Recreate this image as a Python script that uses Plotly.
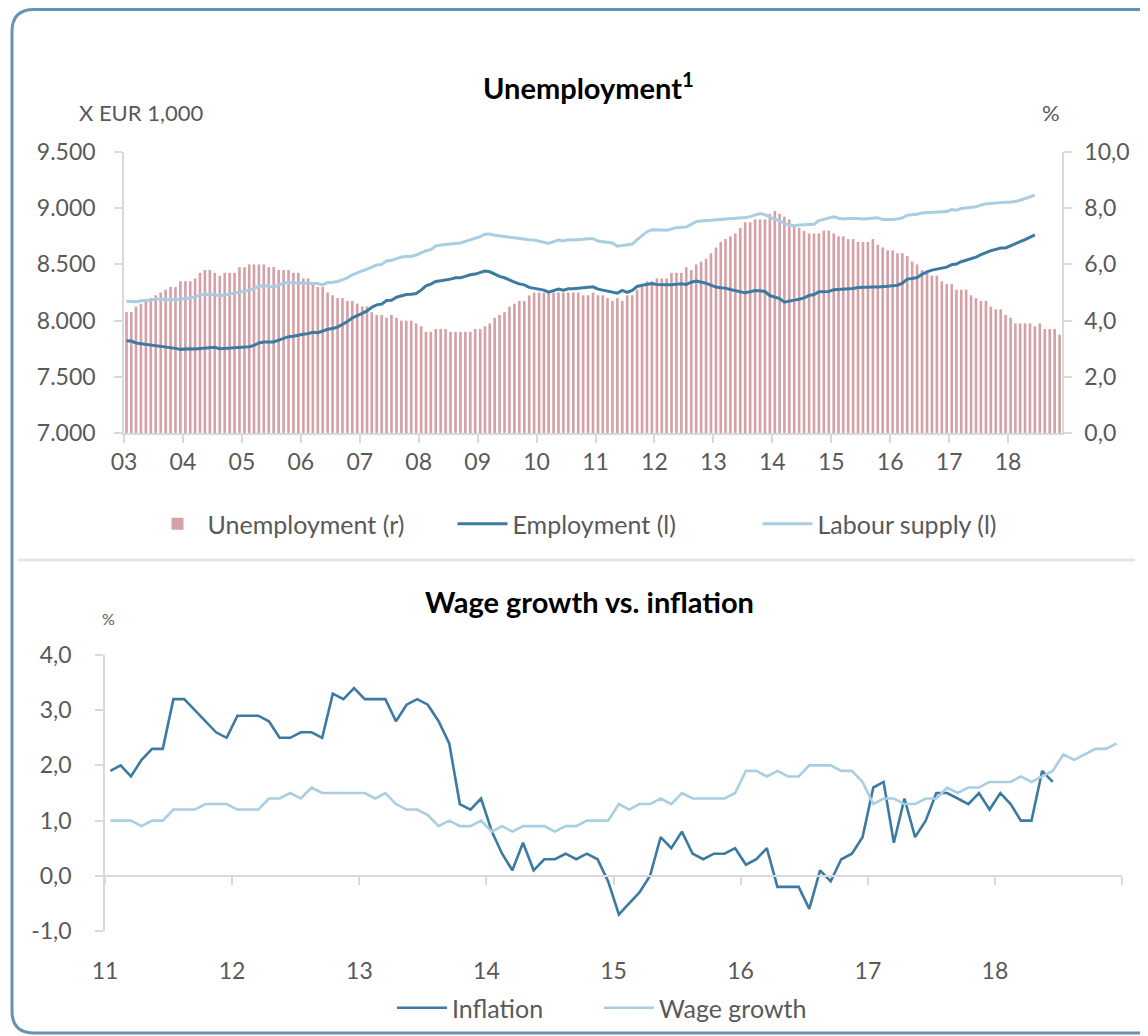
import pandas as pd
import plotly.graph_objects as go

W, H = 1148, 1036
PAGE_OFFSET = 8  # default body margin of the html page

# ---------------- data: top panel (monthly, Jan 2003 onwards) ----------------
unemp_03 = [4.3, 4.3, 4.5, 4.6, 4.7, 4.8, 4.9, 5.0, 5.1, 5.2, 5.2, 5.4]
unemp_04 = [5.4, 5.4, 5.5, 5.7, 5.8, 5.8, 5.7, 5.6, 5.7, 5.7, 5.7, 5.9]
unemp_05 = [5.9, 6.0, 6.0, 6.0, 6.0, 5.9, 5.9, 5.8, 5.8, 5.8, 5.7, 5.7]
unemp_06 = [5.5, 5.5, 5.3, 5.2, 5.2, 5.0, 4.9, 4.8, 4.8, 4.7, 4.7, 4.6]
unemp_07 = [4.5, 4.5, 4.3, 4.2, 4.2, 4.1, 4.2, 4.1, 4.0, 4.0, 4.0, 3.9]
unemp_08 = [3.8, 3.6, 3.6, 3.7, 3.7, 3.7, 3.6, 3.6, 3.6, 3.6, 3.6, 3.7]
unemp_09 = [3.7, 3.8, 3.9, 4.1, 4.2, 4.3, 4.5, 4.6, 4.7, 4.7, 4.9, 5.0]
unemp_10 = [5.0, 5.0, 5.0, 5.0, 5.0, 5.0, 5.0, 5.0, 5.0, 4.9, 4.9, 5.0]
unemp_11 = [4.9, 4.9, 4.8, 4.7, 4.8, 4.7, 4.9, 4.9, 5.1, 5.2, 5.4, 5.4]
unemp_12 = [5.5, 5.5, 5.5, 5.7, 5.7, 5.7, 5.9, 5.8, 6.0, 6.1, 6.2, 6.4]
unemp_13 = [6.6, 6.8, 6.9, 7.0, 7.1, 7.3, 7.5, 7.5, 7.6, 7.6, 7.6, 7.8]
unemp_14 = [7.9, 7.8, 7.7, 7.6, 7.4, 7.3, 7.2, 7.1, 7.1, 7.1, 7.2, 7.2]
unemp_15 = [7.1, 7.0, 7.0, 6.9, 6.9, 6.8, 6.8, 6.8, 6.9, 6.7, 6.6, 6.5]
unemp_16 = [6.5, 6.4, 6.4, 6.3, 6.1, 6.0, 5.8, 5.7, 5.6, 5.6, 5.4, 5.3]
unemp_17 = [5.3, 5.1, 5.1, 5.1, 4.9, 4.8, 4.7, 4.7, 4.5, 4.4, 4.4, 4.2]
unemp_18 = [4.1, 3.9, 3.9, 3.9, 3.9, 3.8, 3.9, 3.7, 3.7, 3.7, 3.5]
unemployment = (unemp_03 + unemp_04 + unemp_05 + unemp_06 + unemp_07 + unemp_08
                + unemp_09 + unemp_10 + unemp_11 + unemp_12 + unemp_13 + unemp_14
                + unemp_15 + unemp_16 + unemp_17 + unemp_18)

employment = [
    7821, 7818, 7801, 7795, 7792, 7786, 7783, 7771, 7768, 7762, 7753, 7744,
    7750, 7750, 7747, 7750, 7753, 7753, 7762, 7750, 7753, 7759, 7765, 7765,
    7765, 7768, 7780, 7801, 7810, 7812, 7810, 7827, 7845, 7857, 7860, 7872,
    7878, 7884, 7896, 7893, 7911, 7923, 7929, 7943, 7967, 7991, 8024, 8048,
    8065, 8086, 8119, 8140, 8146, 8179, 8181, 8208, 8223, 8232, 8235, 8241,
    8271, 8309, 8324, 8348, 8354, 8360, 8369, 8381, 8381, 8393, 8408, 8414,
    8431, 8440, 8434, 8411, 8393, 8381, 8360, 8342, 8327, 8318, 8295, 8286,
    8283, 8271, 8253, 8268, 8280, 8271, 8283, 8283, 8286, 8289, 8298, 8300,
    8280, 8271, 8262, 8250, 8244, 8268, 8250, 8268, 8304, 8315, 8321, 8330,
    8321, 8318, 8315, 8318, 8324, 8327, 8321, 8342, 8351, 8345, 8333, 8315,
    8298, 8292, 8289, 8277, 8265, 8256, 8247, 8256, 8268, 8265, 8259, 8223,
    8208, 8196, 8164, 8176, 8182, 8190, 8202, 8223, 8232, 8256, 8259, 8259,
    8274, 8277, 8277, 8280, 8286, 8295, 8298, 8298, 8298, 8300, 8300, 8306,
    8309, 8315, 8333, 8369, 8375, 8383, 8411, 8434, 8449, 8458, 8470, 8476,
    8497, 8503, 8524, 8536, 8548, 8565, 8586, 8607, 8622, 8634, 8646, 8646,
    8667, 8687, 8702, 8720, 8741, 8762]

labour_supply = [
    8173, 8173, 8167, 8176, 8179, 8182, 8193, 8187, 8187, 8187, 8185, 8190,
    8193, 8202, 8211, 8229, 8235, 8235, 8232, 8220, 8229, 8238, 8247, 8256,
    8259, 8271, 8286, 8303, 8312, 8309, 8300, 8315, 8333, 8339, 8339, 8339,
    8336, 8333, 8330, 8330, 8318, 8339, 8342, 8348, 8363, 8381, 8408, 8428,
    8443, 8458, 8479, 8494, 8500, 8530, 8536, 8551, 8565, 8571, 8571, 8583,
    8604, 8622, 8631, 8664, 8673, 8676, 8681, 8684, 8690, 8705, 8720, 8729,
    8747, 8768, 8771, 8759, 8753, 8744, 8738, 8732, 8726, 8720, 8720, 8717,
    8708, 8696, 8687, 8702, 8717, 8708, 8720, 8717, 8717, 8723, 8729, 8729,
    8708, 8702, 8696, 8690, 8661, 8666, 8670, 8681, 8720, 8756, 8791, 8809,
    8809, 8806, 8803, 8815, 8827, 8830, 8833, 8857, 8881, 8887, 8890, 8893,
    8896, 8899, 8908, 8908, 8911, 8914, 8917, 8925, 8937, 8952, 8943, 8920,
    8899, 8893, 8863, 8851, 8845, 8851, 8854, 8854, 8857, 8890, 8902, 8908,
    8923, 8911, 8905, 8908, 8911, 8908, 8905, 8908, 8911, 8914, 8899, 8896,
    8899, 8905, 8914, 8937, 8940, 8946, 8958, 8961, 8964, 8964, 8967, 8970,
    8988, 8982, 8997, 9000, 9003, 9012, 9027, 9039, 9042, 9048, 9051, 9054,
    9056, 9059, 9071, 9086, 9098, 9116]

top_year_labels = ["03", "04", "05", "06", "07", "08", "09", "10",
                   "11", "12", "13", "14", "15", "16", "17", "18"]

# ---------------- data: bottom panel (monthly, Jan 2011 onwards) ----------------
inflation = [
    1.9, 2.0, 1.8, 2.1, 2.3, 2.3, 3.2, 3.2, 3.0, 2.8, 2.6, 2.5,
    2.9, 2.9, 2.9, 2.8, 2.5, 2.5, 2.6, 2.6, 2.5, 3.3, 3.2, 3.4,
    3.2, 3.2, 3.2, 2.8, 3.1, 3.2, 3.1, 2.8, 2.4, 1.3, 1.2, 1.4,
    0.8, 0.4, 0.1, 0.6, 0.1, 0.3, 0.3, 0.4, 0.3, 0.4, 0.3, -0.1,
    -0.7, -0.5, -0.3, 0.0, 0.7, 0.5, 0.8, 0.4, 0.3, 0.4, 0.4, 0.5,
    0.2, 0.3, 0.5, -0.2, -0.2, -0.2, -0.6, 0.1, -0.1, 0.3, 0.4, 0.7,
    1.6, 1.7, 0.6, 1.4, 0.7, 1.0, 1.5, 1.5, 1.4, 1.3, 1.5, 1.2,
    1.5, 1.3, 1.0, 1.0, 1.9, 1.7]

wage_growth = [
    1.0, 1.0, 1.0, 0.9, 1.0, 1.0, 1.2, 1.2, 1.2, 1.3, 1.3, 1.3,
    1.2, 1.2, 1.2, 1.4, 1.4, 1.5, 1.4, 1.6, 1.5, 1.5, 1.5, 1.5,
    1.5, 1.4, 1.5, 1.3, 1.2, 1.2, 1.1, 0.9, 1.0, 0.9, 0.9, 1.0,
    0.8, 0.9, 0.8, 0.9, 0.9, 0.9, 0.8, 0.9, 0.9, 1.0, 1.0, 1.0,
    1.3, 1.2, 1.3, 1.3, 1.4, 1.3, 1.5, 1.4, 1.4, 1.4, 1.4, 1.5,
    1.9, 1.9, 1.8, 1.9, 1.8, 1.8, 2.0, 2.0, 2.0, 1.9, 1.9, 1.7,
    1.3, 1.4, 1.4, 1.3, 1.3, 1.4, 1.4, 1.6, 1.5, 1.6, 1.6, 1.7,
    1.7, 1.7, 1.8, 1.7, 1.8, 1.9, 2.2, 2.1, 2.2, 2.3, 2.3, 2.4]

bottom_year_labels = ["11", "12", "13", "14", "15", "16", "17", "18"]
bottom_y_values = [-1, 0, 1, 2, 3, 4]
bottom_y_labels = ["-1,0", "0,0", "1,0", "2,0", "3,0", "4,0"]

# ---------------- styling ----------------
FONT = "Lato, 'Open Sans', sans-serif"
GREY = "#595959"
AXIS = "#d9d9d9"
C_BAR = "#d5a0a6"
C_DARK = "#3b7ba1"
C_LIGHT = "#a9cde2"
C_FRAME = "#6393b7"


def px_x(x):
    """page pixel -> paper fraction"""
    return (x - PAGE_OFFSET) / W


def px_y(y):
    return 1 - (y - PAGE_OFFSET) / H


months_top = pd.date_range("2003-01-01", periods=len(unemployment), freq="MS")
months_bot = pd.date_range("2011-01-01", periods=len(wage_growth), freq="MS")
top_ticks = pd.date_range("2003-01-01", periods=len(top_year_labels), freq="12MS")
bot_ticks = pd.date_range("2011-01-01", periods=len(bottom_year_labels), freq="12MS")

fig = go.Figure()

fig.add_trace(go.Bar(
    x=months_top, y=unemployment, name="Unemployment (r)",
    xperiod="M1", xperiodalignment="middle",
    marker=dict(color=C_BAR, line=dict(width=0)),
    xaxis="x", yaxis="y", legend="legend"))
fig.add_trace(go.Scatter(
    x=months_top[:len(employment)], y=employment, name="Employment (l)",
    xperiod="M1", xperiodalignment="middle", mode="lines",
    line=dict(color=C_DARK, width=3), xaxis="x", yaxis="y2", legend="legend"))
fig.add_trace(go.Scatter(
    x=months_top[:len(labour_supply)], y=labour_supply, name="Labour supply (l)",
    xperiod="M1", xperiodalignment="middle", mode="lines",
    line=dict(color=C_LIGHT, width=3), xaxis="x", yaxis="y2", legend="legend"))

fig.add_trace(go.Scatter(
    x=months_bot[:len(inflation)], y=inflation, name="Inflation",
    xperiod="M1", xperiodalignment="middle", mode="lines",
    line=dict(color=C_DARK, width=2.6), xaxis="x2", yaxis="y3", legend="legend2"))
fig.add_trace(go.Scatter(
    x=months_bot, y=wage_growth, name="Wage growth",
    xperiod="M1", xperiodalignment="middle", mode="lines",
    line=dict(color=C_LIGHT, width=2.6), xaxis="x2", yaxis="y3", legend="legend2"))

tickfont = dict(family=FONT, size=23, color=GREY)

# frame: open path (top, left and bottom edges with rounded left corners);
# its right side lies beyond the visible page in the reference
x0, y0, x_end, y1, r = 12, 9.5, 1200, 1033, 22
path = (f"M {px_x(x_end)} {px_y(y0)} L {px_x(x0 + r)} {px_y(y0)} "
        f"Q {px_x(x0)} {px_y(y0)} {px_x(x0)} {px_y(y0 + r)} "
        f"L {px_x(x0)} {px_y(y1 - r)} Q {px_x(x0)} {px_y(y1)} {px_x(x0 + r)} {px_y(y1)} "
        f"L {px_x(x_end)} {px_y(y1)}")

fig.update_layout(
    width=W, height=H,
    margin=dict(l=0, r=0, t=0, b=0, autoexpand=False),
    paper_bgcolor="white", plot_bgcolor="rgba(0,0,0,0)",
    separators=",.",
    font=dict(family=FONT, color=GREY),
    bargap=0.45,
    xaxis=dict(
        domain=[px_x(124), px_x(1062)], anchor="y",
        range=["2003-01-01", "2018-12-01"], type="date",
        tickvals=top_ticks, ticktext=top_year_labels,
        showline=True, linecolor=AXIS, linewidth=1.5,
        ticks="outside", ticklen=8, tickcolor=AXIS, tickwidth=1.5,
        showgrid=False, zeroline=False, tickfont=tickfont, ticklabelstandoff=0),
    yaxis=dict(
        domain=[px_y(433), px_y(152)], anchor="x", side="right",
        range=[0, 10], tickvals=[0, 2, 4, 6, 8, 10], tickformat=".1f",
        showline=True, linecolor=AXIS, linewidth=1.5,
        ticks="outside", ticklen=8, tickcolor=AXIS, tickwidth=1.5,
        showgrid=False, zeroline=False, tickfont=tickfont, ticklabelstandoff=8),
    yaxis2=dict(
        overlaying="y", anchor="x", side="left",
        range=[7000, 9500], tickvals=[7000, 7500, 8000, 8500, 9000, 9500],
        tickformat=",d",
        showline=True, linecolor=AXIS, linewidth=1.5,
        ticks="outside", ticklen=8, tickcolor=AXIS, tickwidth=1.5,
        showgrid=False, zeroline=False, tickfont=tickfont, ticklabelstandoff=14),
    xaxis2=dict(
        domain=[px_x(105), px_x(1122)], anchor="free", position=px_y(876),
        range=["2011-01-01", "2019-01-01"], type="date",
        tickvals=bot_ticks, ticktext=bottom_year_labels,
        minor=dict(tickvals=["2019-01-01"], ticks="outside", ticklen=8,
                   tickcolor=AXIS, tickwidth=1.5, showgrid=False),
        showline=True, linecolor=AXIS, linewidth=1.5,
        ticks="outside", ticklen=8, tickcolor=AXIS, tickwidth=1.5,
        showgrid=False, zeroline=False, tickfont=tickfont, ticklabelstandoff=67),
    yaxis3=dict(
        domain=[px_y(931), px_y(655)], anchor="x2", side="left",
        range=[-1, 4], tickvals=bottom_y_values, ticktext=bottom_y_labels,
        showline=True, linecolor=AXIS, linewidth=1.5,
        ticks="outside", ticklen=8, tickcolor=AXIS, tickwidth=1.5,
        showgrid=False, zeroline=False, tickfont=tickfont, ticklabelstandoff=19),
    legend=dict(
        orientation="h", x=px_x(605), y=px_y(524), xanchor="center", yanchor="middle",
        font=dict(family=FONT, size=25, color=GREY), bgcolor="rgba(0,0,0,0)",
        itemwidth=50, entrywidth=240, traceorder="normal"),
    legend2=dict(
        orientation="h", x=px_x(599), y=px_y(1008), xanchor="center", yanchor="middle",
        font=dict(family=FONT, size=25, color=GREY), bgcolor="rgba(0,0,0,0)",
        itemwidth=50, entrywidth=142, traceorder="normal"),
    shapes=[
        dict(type="path", xref="paper", yref="paper", path=path,
             line=dict(color=C_FRAME, width=3), fillcolor="rgba(0,0,0,0)"),
        dict(type="line", xref="paper", yref="paper",
             x0=px_x(18), x1=px_x(1135), y0=px_y(560), y1=px_y(560),
             line=dict(color="#dce7f0", width=3)),
    ],
    annotations=[
        dict(text="<b>Unemployment<sup>1</sup></b>", xref="paper", yref="paper",
             x=px_x(588), y=px_y(86), xanchor="center", yanchor="middle",
             showarrow=False, font=dict(family=FONT, size=29, color="black")),
        dict(text="X EUR 1,000", xref="paper", yref="paper",
             x=px_x(141), y=px_y(113), xanchor="center", yanchor="middle",
             showarrow=False, font=dict(family=FONT, size=22, color=GREY)),
        dict(text="%", xref="paper", yref="paper",
             x=px_x(1051), y=px_y(113), xanchor="center", yanchor="middle",
             showarrow=False, font=dict(family=FONT, size=22, color=GREY)),
        dict(text="<b>Wage growth vs. inflation</b>", xref="paper", yref="paper",
             x=px_x(589), y=px_y(601), xanchor="center", yanchor="middle",
             showarrow=False, font=dict(family=FONT, size=29, color="black")),
        dict(text="%", xref="paper", yref="paper",
             x=px_x(108), y=px_y(618), xanchor="center", yanchor="middle",
             showarrow=False, font=dict(family=FONT, size=16, color=GREY)),
    ],
)

fig.write_html("out.html")
